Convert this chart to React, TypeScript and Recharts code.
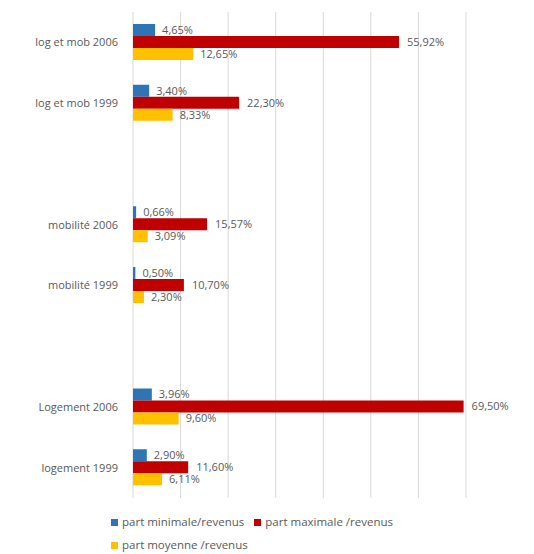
import { BarChart, Bar, XAxis, YAxis, CartesianGrid, Legend, LabelList } from "recharts";

const categories = ["log et mob 2006", "log et mob 1999", " ", "mobilité 2006", "mobilité 1999", "  ", "Logement 2006", "logement 1999"];
const seriesNames = ["part minimale/revenus", "part maximale /revenus", "part moyenne /revenus"];
const partMin = [4.65, 3.4, null, 0.66, 0.5, null, 3.96, 2.9];
const partMax = [55.92, 22.3, null, 15.57, 10.7, null, 69.5, 11.6];
const partMoy = [12.65, 8.33, null, 3.09, 2.3, null, 9.6, 6.11];
const xTicks = [0, 10, 20, 30, 40, 50, 60, 70];

const data = categories.map((name, i) => ({
  name,
  min: partMin[i],
  max: partMax[i],
  moy: partMoy[i],
}));

const fmt = (v: any) => (v == null ? "" : v.toFixed(2).replace(".", ",") + "%");

const labelStyle = { fill: "#595959", fontSize: 11 };
const font = "'Open Sans', 'Liberation Sans', sans-serif";

export default function App() {
  return (
    <div style={{ position: "absolute", left: 0, top: 0, fontFamily: font }}>
      <BarChart
        width={534}
        height={554}
        data={data}
        layout="vertical"
        margin={{ top: 12, right: 68, left: 0, bottom: 10 }}
        barGap={0}
        barSize={12}
      >
        <CartesianGrid horizontal={false} stroke="#d9d9d9" />
        <XAxis type="number" hide domain={[0, 70]} ticks={xTicks} />
        <YAxis
          type="category"
          dataKey="name"
          width={133}
          axisLine={false}
          tickLine={false}
          tick={{ fill: "#595959", fontSize: 11 }}
          tickMargin={9}
        />
        <Legend
          align="left"
          verticalAlign="bottom"
          iconType="square"
          iconSize={7}
          itemSorter={(item: any) => seriesNames.indexOf(item.value)}
          formatter={(value: any) => <span style={{ color: "#595959" }}>{value}</span>}
          wrapperStyle={{ left: 111, top: 510, width: 360, fontSize: 11.5, lineHeight: "23px" }}
        />
        <Bar dataKey="min" name={seriesNames[0]} fill="#2E75B6" isAnimationActive={false}>
          <LabelList dataKey="min" position="right" offset={7} formatter={fmt} style={labelStyle} />
        </Bar>
        <Bar dataKey="max" name={seriesNames[1]} fill="#C00000" isAnimationActive={false}>
          <LabelList dataKey="max" position="right" offset={8} formatter={fmt} style={labelStyle} />
        </Bar>
        <Bar dataKey="moy" name={seriesNames[2]} fill="#FFC000" isAnimationActive={false}>
          <LabelList dataKey="moy" position="right" offset={7} formatter={fmt} style={labelStyle} />
        </Bar>
      </BarChart>
    </div>
  );
}
